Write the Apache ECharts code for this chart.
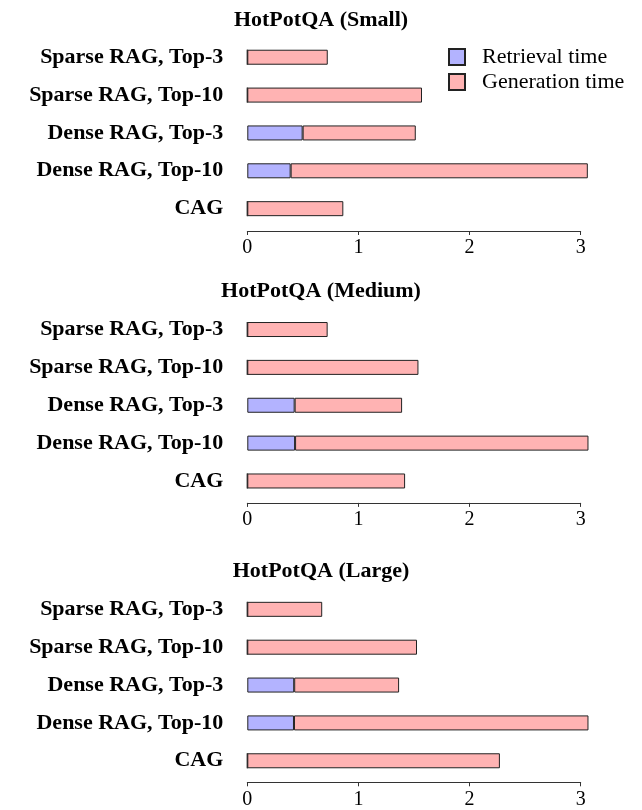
<!DOCTYPE html>
<html>
<head>
<meta charset="utf-8">
<script src="https://cdn.jsdelivr.net/npm/echarts@6/dist/echarts.min.js"></script>
<style>
  html, body { margin: 0; padding: 0; background: #fff; }
  #main { width: 642px; height: 810px; }
</style>
</head>
<body>
<div id="main"></div>
<script>
// categories, top to bottom
var methods = ['Sparse RAG, Top-3', 'Sparse RAG, Top-10', 'Dense RAG, Top-3', 'Dense RAG, Top-10', 'CAG'];
var panelTitles = ['HotPotQA (Small)', 'HotPotQA (Medium)', 'HotPotQA (Large)'];
var seriesNames = ['Retrieval time', 'Generation time'];
var xTicks = [0, 1, 2, 3];

// seconds
var retrievalSmall = [0, 0, 0.498, 0.39, 0];
var generationSmall = [0.724, 1.572, 1.018, 2.674, 0.864];
var retrievalMedium = [0, 0, 0.426, 0.43, 0];
var generationMedium = [0.723, 1.54, 0.967, 2.64, 1.42];
var retrievalLarge = [0, 0, 0.422, 0.42, 0];
var generationLarge = [0.674, 1.527, 0.944, 2.65, 2.273];

var retrieval = [retrievalSmall, retrievalMedium, retrievalLarge];
var generation = [generationSmall, generationMedium, generationLarge];

var serif = 'Liberation Serif';
var colors = ['#b3b3ff', '#ffb3b3'];

// layout
var gridTops = [38.3, 310.6, 590.4];
var axisOffsets = [3.4, 3, 2.6];
var titleTops = [4, 275, 555];

var myChart = echarts.init(document.getElementById('main'), null, { renderer: 'canvas' });

var titles = [], grids = [], xAxes = [], yAxes = [], series = [];

panelTitles.forEach(function (t, i) {
  titles.push({
    text: t,
    left: 'center',
    top: titleTops[i],
    textStyle: { fontFamily: serif, fontWeight: 'bold', fontSize: 22, color: '#000' }
  });
  grids.push({ left: 247.3, width: 333.4, top: gridTops[i], height: 189.3 });
  xAxes.push({
    gridIndex: i,
    type: 'value',
    min: 0,
    max: xTicks[xTicks.length - 1],
    interval: 1,
    offset: axisOffsets[i],
    axisLine: { show: true, lineStyle: { color: '#333', width: 1 } },
    axisTick: { show: true, length: 4, lineStyle: { color: '#333' } },
    splitLine: { show: false },
    axisLabel: { fontFamily: serif, fontSize: 20, color: '#000', margin: 7 }
  });
  yAxes.push({
    gridIndex: i,
    type: 'category',
    inverse: true,
    data: methods,
    axisLine: { show: false },
    axisTick: { show: false },
    axisLabel: { fontFamily: serif, fontWeight: 'bold', fontSize: 22, color: '#000', margin: 24 }
  });
  [retrieval[i], generation[i]].forEach(function (vals, k) {
    series.push({
      name: seriesNames[k],
      type: 'bar',
      xAxisIndex: i,
      yAxisIndex: i,
      stack: 'total' + i,
      barWidth: 15,
      clip: false,
      itemStyle: { color: colors[k], borderColor: '#222', borderWidth: 1 },
      emphasis: { disabled: true },
      data: vals
    });
  });
});

myChart.setOption({
  animation: false,
  title: titles,
  legend: {
    data: seriesNames,
    orient: 'vertical',
    left: 448,
    top: 46,
    padding: 0,
    icon: 'rect',
    itemWidth: 16,
    itemHeight: 16,
    itemGap: 3,
    textStyle: { fontFamily: serif, fontSize: 22, lineHeight: 16, color: '#000', padding: [0, 0, 0, 12] }
  },
  grid: grids,
  xAxis: xAxes,
  yAxis: yAxes,
  series: series
});
</script>
</body>
</html>
